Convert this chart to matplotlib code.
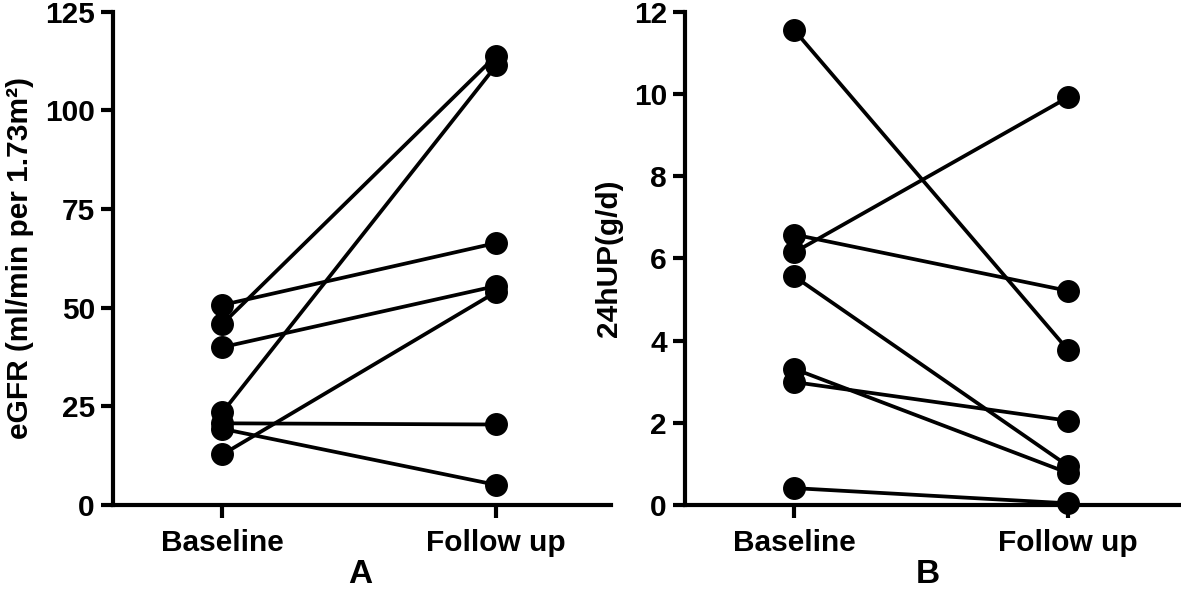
import numpy as np
import matplotlib
matplotlib.use("Agg")
import matplotlib.pyplot as plt

# *** data ***
groups = ["Baseline", "Follow up"]

egfr_base = [50.7, 45.9, 40.0, 23.5, 20.7, 19.3, 12.8]
egfr_follow = [66.4, 113.9, 55.5, 111.4, 20.4, 5.1, 54.0]

up_base = [11.55, 6.15, 6.58, 5.56, 3.31, 2.99, 0.41]
up_follow = [3.77, 9.92, 5.21, 0.95, 0.78, 2.05, 0.04]

plt.rcParams['font.family'] = ['Liberation Sans', 'DejaVu Sans']
plt.rcParams['font.weight'] = 'bold'

fig = plt.figure(figsize=(11.81, 5.92), dpi=100)
axA = fig.add_axes([0.0957, 0.147, 0.4217, 0.833])
axB = fig.add_axes([0.580, 0.147, 0.4217, 0.833])


def paired(ax, base, follow, ymax, step, ylabel):
    x = np.arange(len(groups))
    for b, f in zip(base, follow):
        ax.plot(x, [b, f], color='black', lw=2.7, marker='o', ms=15.5,
                solid_capstyle='butt', clip_on=False, zorder=3)
    ax.set_xlim(-0.4, 1.42)
    ax.set_ylim(0, ymax)
    ax.set_yticks(np.arange(0, ymax + step / 2, step))
    ax.set_xticks(x)
    ax.set_xticklabels(groups)
    for s in ['top', 'right']:
        ax.spines[s].set_visible(False)
    for s in ['left', 'bottom']:
        ax.spines[s].set_linewidth(3)
    ax.tick_params(axis='y', width=3, length=9, labelsize=21.5, pad=4)
    ax.tick_params(axis='x', width=3, length=9, labelsize=21.5, pad=8)
    ax.set_ylabel(ylabel, fontsize=21.5, fontweight='bold', labelpad=8)
    for t in ax.get_xticklabels() + ax.get_yticklabels():
        t.set_fontweight('bold')


paired(axA, egfr_base, egfr_follow, 125, 25, "eGFR (ml/min per 1.73m\u00b2)")
paired(axB, up_base, up_follow, 12, 2, "24hUP(g/d)")

# panel letters under each plot
fig.text(0.3048, 0.004, "A", ha='center', va='bottom', fontsize=24, fontweight='bold')
fig.text(0.7858, 0.004, "B", ha='center', va='bottom', fontsize=24, fontweight='bold')

fig.savefig("out.png", dpi=100)
